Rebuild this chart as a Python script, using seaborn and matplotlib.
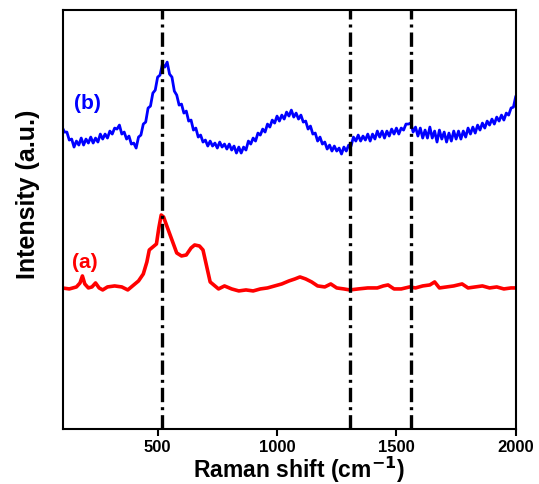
import numpy as np
import pandas as pd
import matplotlib
matplotlib.use("Agg")
import matplotlib.pyplot as plt
import seaborn as sns

# ---- data (Raman shift in cm^-1, intensity in arbitrary units) ----
shift_a = [100, 130, 160, 175, 185, 195, 210, 225, 240, 255, 270, 290, 320, 350, 375,
           395, 420, 440, 455, 465, 480, 495, 505, 515, 525, 540, 560, 580, 600, 620,
           640, 655, 675, 690, 705, 720, 735, 755, 780, 810, 840, 870, 900, 930, 960,
           990, 1020, 1050, 1075, 1096, 1120, 1145, 1170, 1200, 1225, 1250, 1280, 1305,
           1340, 1380, 1420, 1445, 1465, 1490, 1520, 1555, 1580, 1610, 1640, 1660, 1680,
           1710, 1740, 1775, 1800, 1830, 1860, 1890, 1920, 1950, 1980, 2000]
pix_a = [288, 289, 287, 283, 276, 284, 288, 287, 283, 288, 290, 287, 286, 287, 290,
         286, 281, 274, 262, 250, 247, 244, 228, 215, 217, 227, 240, 253, 256, 255,
         248, 245, 246, 250, 266, 282, 285, 289, 286, 289, 291, 290, 291, 289, 288,
         286, 284, 281, 279, 277, 279, 282, 286, 287, 284, 288, 289, 290,
         289, 288, 288, 286, 285, 289, 289, 287, 288, 286, 285, 282, 288,
         287, 286, 284, 288, 287, 286, 288, 287, 289, 288, 288]
intensity_a = [429 - p for p in pix_a]

shift_b = list(range(100, 2001, 10))
intensity_b = [
    302, 297, 297, 289, 290, 282, 288, 284, 291, 284,   # 100-190
    290, 286, 292, 286, 291, 287, 295, 290, 295, 291,   # 200-290
    298, 295, 301, 300, 304, 295, 297, 290, 293, 285,   # 300-390
    286, 281, 292, 294, 305, 307, 321, 323, 336, 339,   # 400-490
    352, 354, 365, 362, 367, 355, 352, 338, 334, 324,   # 500-590
    325, 316, 318, 308, 309, 299, 301, 292, 294, 287,   # 600-690
    289, 283, 288, 283, 286, 281, 287, 282, 285, 280,   # 700-790
    285, 279, 283, 276, 282, 276, 282, 279, 288, 285,   # 800-890
    291, 288, 296, 294, 300, 297, 305, 302, 309, 306,   # 900-990
    313, 308, 314, 310, 317, 313, 319, 312, 316, 310,   # 1000-1090
    314, 307, 308, 300, 303, 295, 296, 288, 292, 285,   # 1100-1190
    287, 280, 284, 278, 283, 278, 281, 275, 282, 278,   # 1200-1290
    284, 283, 292, 288, 294, 288, 293, 289, 295, 288,   # 1300-1390
    295, 290, 298, 292, 298, 291, 298, 293, 300, 295,   # 1400-1490
    301, 295, 301, 299, 305, 305, 306, 297, 302, 293,   # 1500-1590
    301, 291, 299, 291, 302, 291, 298, 287, 299, 290,   # 1600-1690
    297, 287, 296, 288, 298, 290, 298, 290, 298, 292,   # 1700-1790
    301, 295, 302, 296, 304, 299, 306, 301, 308, 304,   # 1800-1890
    310, 305, 312, 308, 314, 309, 316, 314, 321, 322,   # 1900-1990
    333,                                                # 2000
]

marker_lines = [520, 1305, 1560]
xticks = [500, 1000, 1500, 2000]

df_a = pd.DataFrame({"shift": shift_a, "intensity": intensity_a})
df_b = pd.DataFrame({"shift": shift_b, "intensity": intensity_b})

sns.set_style("ticks")
plt.rcParams["font.family"] = ["Liberation Sans", "DejaVu Sans"]
plt.rcParams["text.color"] = "black"
plt.rcParams["axes.labelcolor"] = "black"
plt.rcParams["xtick.color"] = "black"
plt.rcParams["ytick.color"] = "black"

fig = plt.figure(figsize=(5.39, 4.84), dpi=100)
ax = fig.add_axes([0.117, 0.114, 0.840, 0.865])

sns.lineplot(data=df_b, x="shift", y="intensity", color="#0000ff", lw=2.0, ax=ax)
sns.lineplot(data=df_a, x="shift", y="intensity", color="#ff0000", lw=2.6, ax=ax)

for xv in marker_lines:
    ax.axvline(xv, color="black", lw=2.4, linestyle=(0, (4.3, 1.5, 0.9, 1.5)), zorder=5)

ax.text(205, 326, "(b)", color="#0000ff", fontsize=15, fontweight="bold",
        ha="center", va="center")
ax.text(197, 166, "(a)", color="#ff0000", fontsize=15, fontweight="bold",
        ha="center", va="center")

ax.set_xlim(104, 2000)
ax.set_ylim(0, 419)
ax.set_xticks(xticks)
ax.set_xticklabels([str(t) for t in xticks], fontsize=12, fontweight="bold")
ax.set_yticks([])
ax.tick_params(axis="x", direction="out", length=5, width=1.5, pad=3)
ax.set_xlabel("Raman shift (cm$^{\\mathbf{-1}}$)", fontsize=16.5, fontweight="bold")
ax.xaxis.set_label_coords(0.52, -0.062)
ax.set_ylabel("Intensity (a.u.)", fontsize=18, fontweight="bold")
ax.yaxis.set_label_coords(-0.052, 0.56)
for s in ax.spines.values():
    s.set_visible(True)
    s.set_linewidth(1.5)
    s.set_color("black")

fig.savefig("out.png", dpi=100, facecolor="white")
